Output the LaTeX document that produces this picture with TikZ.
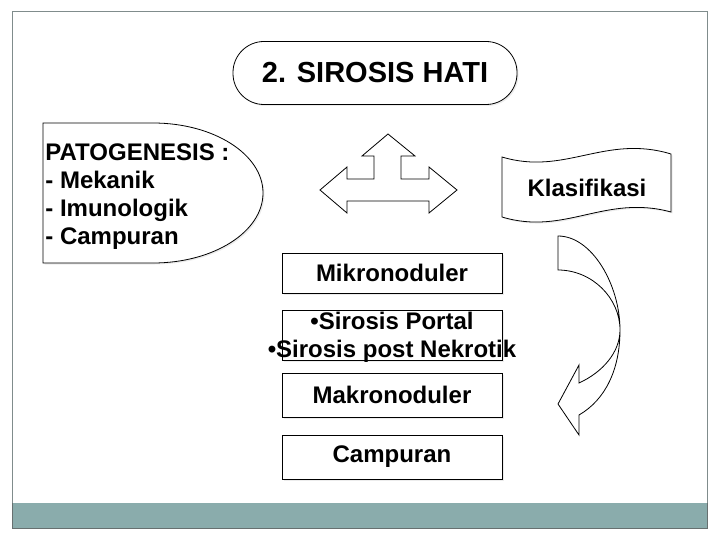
\documentclass[tikz,border=0pt]{standalone}
\usepackage{fontspec}
\setmainfont{Liberation Sans}
\usetikzlibrary{shadows}
\definecolor{slideteal}{RGB}{138,172,172}
\definecolor{framegray}{RGB}{128,140,140}

\begin{document}
\begin{tikzpicture}[x=1pt, y=-1pt, line width=0.8pt,
  lbl/.style={font=\fontsize{24}{28}\selectfont\bfseries, inner sep=0pt},
  shade/.style={drop shadow={shadow xshift=1.5pt, shadow yshift=-1.5pt, fill=black!15}},
  box/.style={rectangle, draw=black, fill=white, minimum width=220pt,
              minimum height=44pt, lbl, shade},
  blockshape/.style={draw=black, fill=white, line join=miter}
]
  \useasboundingbox (0,0) rectangle (720,540);

  % slide frame
  \draw[framegray, line width=1pt] (12,503) -- (12,12) -- (707,12) -- (707,503);
  \fill[slideteal] (12,503) rectangle (707,528);
  \draw[framegray!80!black, line width=0.8pt] (12,503) -- (12,528) -- (707,528) -- (707,503);

  % title
  \node[rectangle, rounded corners=31pt, draw=black, fill=white, shade,
        minimum width=284pt, minimum height=63pt,
        font=\fontsize{29}{32}\selectfont\bfseries] (title) at (375,73) {2. SIROSIS HATI};

  % patogenesis
  \draw[blockshape, shade] (43,123) -- (153,123)
    .. controls (213.8,123) and (263,154.3) .. (263,193)
    .. controls (263,231.7) and (213.8,263) .. (153,263) -- (43,263) -- cycle;
  \node[lbl, anchor=west, align=left] (pato) at (45,197)
    {PATOGENESIS :\\- Mekanik\\- Imunologik\\- Campuran};

  % three-way arrow
  \draw[blockshape] (320,190) -- (347,167) -- (347,179) -- (374,179) -- (374,156)
    -- (362,156) -- (388,134) -- (415,156) -- (401,156) -- (401,179) -- (429,179)
    -- (429,167) -- (457,190) -- (429,213) -- (429,201) -- (347,201) -- (347,213) -- cycle;

  % klasifikasi
  \draw[blockshape, shade] (502,157) .. controls (565,176) and (605,134) .. (671,154)
    -- (671,212) .. controls (605,194) and (565,236) .. (502,217) -- cycle;
  \node[lbl] (klas) at (587,188) {Klasifikasi};

  % curved arrow
  \draw[blockshape] (558,236) .. controls (592,236) and (620,285) .. (620,330)
    .. controls (620,370) and (605,400) .. (579,415) -- (579,435) -- (558,404)
    -- (579,365) -- (579,383) .. controls (603,372) and (620,352) .. (620,330)
    .. controls (620,298) and (592,270) .. (558,270) -- cycle;

  % classes
  \node[box, minimum height=40pt] (mikro) at (392,273) {Mikronoduler};
  \node[box, minimum height=50pt] (portal) at (392,335) {};
  \node[lbl, align=center] (portaltxt) at (392,337.5)
    {•Sirosis Portal\\•Sirosis post Nekrotik};
  \node[box] (makro) at (392,395) {Makronoduler};
  \node[box] (campur) at (392,457) {Campuran};
\end{tikzpicture}
\end{document}
